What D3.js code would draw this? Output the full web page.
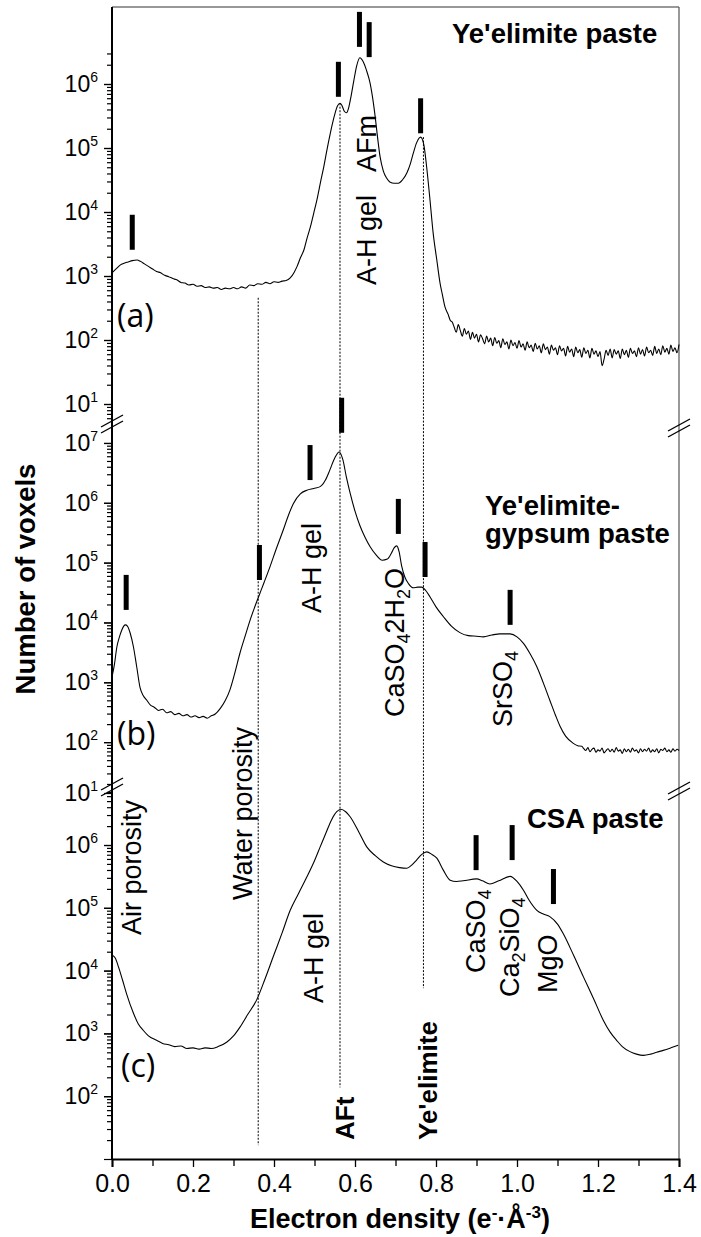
<!DOCTYPE html>
<html>
<head>
<meta charset="utf-8">
<script src="https://cdn.jsdelivr.net/npm/d3@7"></script>
<style>
  body { margin: 0; background: #fff; }
  text { font-family: "Liberation Sans", Arial, sans-serif; fill: #000; }
</style>
</head>
<body>
<svg id="chart" width="701" height="1237"></svg>
<script>
// Electron density (e-/A^3) and log10(number of voxels)

// (a) Ye'elimite paste
const xA = [0.000,0.010,0.020,0.030,0.040,0.050,0.062,0.070,0.080,0.090,0.100,0.110,0.120,0.130,0.140,0.150,0.160,0.170,0.180,0.190,
  0.200,0.210,0.220,0.230,0.240,0.250,0.260,0.270,0.280,0.290,0.300,0.310,0.320,0.330,0.340,0.350,0.360,0.370,0.380,0.390,
  0.400,0.410,0.420,0.430,0.440,0.450,0.457,0.465,0.474,0.482,0.490,0.498,0.506,0.515,0.523,0.531,0.539,0.545,0.551,0.557,
  0.563,0.568,0.574,0.579,0.584,0.590,0.597,0.604,0.612,0.620,0.628,0.637,0.645,0.650,0.656,0.662,0.670,0.678,0.686,0.697,
  0.707,0.717,0.728,0.737,0.744,0.752,0.762,0.770,0.777,0.785,0.793,0.802,0.810,0.816,0.822,0.830,0.835,
  0.840,0.845,0.850,0.855,0.860,0.865,0.870,0.875,0.880,0.885,0.890,0.895,
  0.900,0.905,0.910,0.915,0.920,0.925,0.930,0.935,0.940,0.945,0.950,0.955,0.960,0.965,0.970,0.975,0.980,0.985,0.990,0.995,
  1.000,1.005,1.010,1.015,1.020,1.025,1.030,1.035,1.040,1.045,1.050,1.055,1.060,1.065,1.070,1.075,1.080,1.085,1.090,1.095,
  1.100,1.105,1.110,1.115,1.120,1.125,1.130,1.135,1.140,1.145,1.150,1.155,1.160,1.165,1.170,1.175,1.180,1.185,1.190,1.195,
  1.200,1.205,1.210,1.215,1.220,1.225,1.230,1.235,1.240,1.245,1.250,1.255,1.260,1.265,1.270,1.275,1.280,1.285,1.290,1.295,
  1.300,1.305,1.310,1.315,1.320,1.325,1.330,1.335,1.340,1.345,1.350,1.355,1.360,1.365,1.370,1.375,1.380,1.385,1.390,1.395,1.400];
const logA = [3.05,3.11,3.17,3.20,3.22,3.24,3.25,3.23,3.19,3.15,3.11,3.07,3.05,3.01,2.99,2.96,2.94,2.90,2.89,2.86,
  2.87,2.84,2.85,2.82,2.83,2.81,2.82,2.79,2.81,2.80,2.82,2.80,2.83,2.81,2.86,2.85,2.88,2.87,2.90,2.88,
  2.91,2.90,2.92,2.93,2.97,3.06,3.15,3.28,3.41,3.60,3.77,3.98,4.19,4.47,4.71,4.98,5.23,5.40,5.55,5.66,
  5.70,5.66,5.57,5.55,5.62,5.80,6.05,6.28,6.41,6.35,6.22,6.02,5.72,5.48,5.15,4.86,4.64,4.53,4.47,4.45,
  4.45,4.50,4.61,4.76,4.92,5.08,5.17,5.05,4.70,4.20,3.67,3.25,2.89,2.70,2.52,2.40,2.31,
  2.28,2.20,2.12,2.24,2.15,2.06,2.18,2.09,2.14,2.01,2.12,2.03,
  2.09,1.97,2.08,2.02,1.94,2.06,1.97,2.03,1.91,2.04,1.95,1.99,1.88,2.02,1.93,1.97,1.86,2.00,1.91,1.96,
  1.87,1.99,1.89,1.94,1.84,1.97,1.88,1.92,1.82,1.95,1.86,1.91,1.80,1.94,1.85,1.89,1.78,1.92,1.84,1.88,
  1.77,1.91,1.83,1.87,1.75,1.90,1.81,1.86,1.74,1.89,1.80,1.85,1.73,1.88,1.79,1.84,1.72,1.87,1.78,1.83,
  1.74,1.82,1.60,1.70,1.84,1.76,1.86,1.72,1.85,1.78,1.83,1.71,1.86,1.77,1.84,1.73,1.87,1.79,1.83,1.74,
  1.88,1.78,1.85,1.75,1.89,1.80,1.84,1.76,1.90,1.79,1.86,1.77,1.91,1.81,1.87,1.78,1.92,1.82,1.88,1.80,1.93];

// (b) Ye'elimite-gypsum paste
const xB = [0.000,0.006,0.012,0.018,0.024,0.029,0.033,0.038,0.045,0.053,0.061,0.069,0.077,0.086,0.095,0.105,0.115,0.125,0.135,0.145,
  0.155,0.165,0.175,0.185,0.195,0.205,0.215,0.225,0.235,0.245,0.255,0.267,0.280,0.291,0.303,0.316,0.330,0.341,0.352,0.362,
  0.375,0.390,0.405,0.423,0.435,0.448,0.465,0.481,0.498,0.514,0.527,0.538,0.550,0.561,0.570,0.579,0.588,0.600,0.612,0.625,
  0.637,0.652,0.667,0.680,0.690,0.697,0.703,0.709,0.715,0.723,0.732,0.744,0.755,0.765,0.775,0.785,0.800,0.818,0.838,0.859,
  0.880,0.900,0.917,0.938,0.958,0.983,1.000,1.016,1.032,1.049,1.065,1.081,1.095,1.106,1.120,1.139,1.150,
  1.160,1.165,1.170,1.175,1.180,1.185,1.190,1.195,1.200,1.205,1.210,1.215,1.220,1.225,1.230,1.235,1.240,1.245,1.250,1.255,
  1.260,1.265,1.270,1.275,1.280,1.285,1.290,1.295,1.300,1.305,1.310,1.315,1.320,1.325,1.330,1.335,1.340,1.345,1.350,1.355,
  1.360,1.365,1.370,1.375,1.380,1.385,1.390,1.395,1.400];
const logB = [3.09,3.30,3.59,3.75,3.87,3.94,3.96,3.94,3.82,3.59,3.26,2.92,2.78,2.70,2.62,2.58,2.53,2.55,2.49,2.51,
  2.46,2.48,2.44,2.46,2.42,2.44,2.41,2.43,2.40,2.44,2.47,2.56,2.70,2.87,3.15,3.49,3.80,4.04,4.25,4.43,
  4.66,4.93,5.22,5.55,5.78,5.99,6.15,6.21,6.24,6.27,6.38,6.55,6.75,6.85,6.72,6.42,6.16,5.86,5.62,5.42,
  5.27,5.13,5.04,5.06,5.16,5.25,5.28,5.18,4.95,4.76,4.65,4.58,4.59,4.59,4.53,4.43,4.26,4.10,3.94,3.83,
  3.78,3.77,3.76,3.79,3.81,3.81,3.76,3.65,3.48,3.26,2.99,2.70,2.45,2.27,2.10,1.98,1.94,
  1.93,1.89,1.86,1.91,1.84,1.88,1.90,1.83,1.87,1.85,1.90,1.82,1.86,1.89,1.84,1.88,1.83,1.91,1.85,1.87,
  1.81,1.89,1.84,1.88,1.83,1.90,1.85,1.87,1.82,1.89,1.84,1.88,1.85,1.90,1.83,1.87,1.84,1.89,1.82,1.88,
  1.86,1.90,1.84,1.87,1.83,1.89,1.85,1.88,1.86];

// (c) CSA paste
const xC = [0.000,0.008,0.016,0.026,0.036,0.053,0.065,0.077,0.090,0.110,0.125,0.140,0.155,0.170,0.185,0.200,0.215,0.230,0.245,0.262,
  0.283,0.300,0.316,0.335,0.357,0.378,0.398,0.420,0.440,0.460,0.481,0.500,0.514,0.530,0.542,0.555,0.565,0.577,0.588,0.610,
  0.629,0.650,0.670,0.690,0.710,0.728,0.740,0.752,0.765,0.777,0.790,0.802,0.818,0.835,0.850,0.867,0.900,0.915,0.933,0.955,
  0.983,1.000,1.016,1.030,1.049,1.065,1.081,1.100,1.114,1.140,1.164,1.190,1.213,1.230,1.246,1.260,1.279,1.295,1.312,1.330,
  1.345,1.361,1.380,1.398];
const logC = [4.25,4.20,4.06,3.85,3.63,3.32,3.15,3.05,2.96,2.89,2.84,2.82,2.79,2.80,2.76,2.77,2.75,2.77,2.76,2.79,
  2.86,2.96,3.10,3.30,3.53,3.87,4.22,4.60,4.96,5.22,5.49,5.75,5.97,6.22,6.40,6.53,6.57,6.53,6.45,6.20,
  5.97,5.83,5.73,5.67,5.64,5.63,5.68,5.76,5.85,5.89,5.85,5.79,5.60,5.44,5.42,5.43,5.46,5.43,5.38,5.43,
  5.50,5.42,5.28,5.12,4.96,4.90,4.86,4.74,4.59,4.24,3.90,3.54,3.21,3.02,2.89,2.79,2.71,2.67,2.65,2.67,
  2.70,2.73,2.77,2.81];

// tick marks over the peaks (x, log10 count at the bottom of the mark)
const aMarkX = [0.05, 0.559, 0.611, 0.635, 0.762];
const aMarkLog = [3.41, 5.80, 6.58, 6.42, 5.23];
const bMarkX = [0.035, 0.364, 0.489, 0.567, 0.707, 0.773, 0.983];
const bMarkLog = [4.21, 4.71, 6.38, 7.17, 5.48, 4.76, 3.96];
const cMarkX = [0.899, 0.988, 1.09];
const cMarkLog = [5.60, 5.76, 5.06];

// dotted guides: x, top in panel (a), bottom in panel (c)
const guideX = [0.361, 0.563, 0.769];
const guideTopLog = [2.66, 5.70, 5.17];
const guideBottomLog = [1.22, 2.14, 3.72];

const xTicks = [0, 0.2, 0.4, 0.6, 0.8, 1.0, 1.2, 1.4];
const xMinorTicks = [0.1, 0.3, 0.5, 0.7, 0.9, 1.1, 1.3];

const svg = d3.select("#chart");
const x = d3.scaleLinear().domain([0, 1.4]).range([112, 679]);

const panels = [
  { xs: xA, logs: logA, dom: [0.75, 6.5], range: [420, 52], labelExp: [1, 2, 3, 4, 5, 6], markX: aMarkX, markLog: aMarkLog },
  { xs: xB, logs: logB, dom: [1.15, 7.25], range: [793, 428], labelExp: [1, 2, 3, 4, 5, 6, 7], markX: bMarkX, markLog: bMarkLog },
  { xs: xC, logs: logC, dom: [1, 6.876], range: [1159, 790], labelExp: [2, 3, 4, 5, 6], markX: cMarkX, markLog: cMarkLog },
];
panels.forEach(p => {
  p.y = d3.scaleLog().domain(p.dom.map(e => Math.pow(10, e))).range(p.range);
  p.yc = p.y.copy().clamp(true);
});

// frame
svg.append("line").attr("x1", 112).attr("x2", 679).attr("y1", 7).attr("y2", 7)
  .attr("stroke", "#333").attr("stroke-width", 1);
svg.append("line").attr("x1", 679).attr("x2", 679).attr("y1", 7).attr("y2", 1159)
  .attr("stroke", "#555").attr("stroke-width", 1.2);

// y axes
panels.forEach(p => {
  const minor = [];
  for (let e = Math.floor(p.dom[0]); e <= Math.floor(p.dom[1]); e++) {
    for (let k = 2; k <= 9; k++) {
      const v = k * Math.pow(10, e);
      if (Math.log10(v) >= p.dom[0] && Math.log10(v) <= p.dom[1]) minor.push(v);
    }
  }
  const major = [];
  for (let e = Math.ceil(p.dom[0]); e <= Math.floor(p.dom[1]); e++) major.push(Math.pow(10, e));
  p.labelExp.forEach(e => major.push(Math.pow(10, e)));

  const gMin = svg.append("g").attr("transform", "translate(112,0)")
    .call(d3.axisLeft(p.y).tickValues(minor).tickSize(5).tickFormat(""));
  const gMaj = svg.append("g").attr("transform", "translate(112,0)")
    .call(d3.axisLeft(p.yc).tickValues(major).tickSize(8).tickFormat(""));
  [gMin, gMaj].forEach(g => {
    g.select(".domain").remove();
    g.selectAll("line").attr("stroke", "#000").attr("stroke-width", 1.2);
  });

  const lab = svg.append("g");
  p.labelExp.forEach(e => {
    const t = lab.append("text")
      .attr("x", 98).attr("y", p.yc(Math.pow(10, e)) + 8)
      .attr("text-anchor", "end").style("font-size", "23px");
    t.append("tspan").text("10");
    t.append("tspan").attr("dy", -10).style("font-size", "14px").text(e);
  });
});

// left axis line and bottom axis
svg.append("line").attr("x1", 112).attr("x2", 112).attr("y1", 7).attr("y2", 1160)
  .attr("stroke", "#000").attr("stroke-width", 2);

const gx = svg.append("g").attr("transform", "translate(0,1159)")
  .call(d3.axisBottom(x).tickValues(xTicks).tickSize(8).tickPadding(7).tickFormat(d3.format(".1f")));
gx.select(".domain").attr("stroke-width", 2);
gx.selectAll("line").attr("stroke-width", 1.3);
gx.selectAll("text").style("font-size", "25px").style("font-family", "'Liberation Sans', Arial, sans-serif");
const gxm = svg.append("g").attr("transform", "translate(0,1159)")
  .call(d3.axisBottom(x).tickValues(xMinorTicks).tickSize(7).tickFormat(""));
gxm.select(".domain").remove();
gxm.selectAll("line").attr("stroke-width", 1.3);

// dotted guides
const yTop = panels[0].y, yBot = panels[2].y;
svg.append("g").selectAll("line").data(guideX).join("line")
  .attr("x1", d => x(d)).attr("x2", d => x(d))
  .attr("y1", (d, i) => yTop(Math.pow(10, guideTopLog[i])))
  .attr("y2", (d, i) => yBot(Math.pow(10, guideBottomLog[i])))
  .attr("stroke", "#000").attr("stroke-width", 1).attr("stroke-dasharray", "2,1.5");

// curves and peak marks
panels.forEach(p => {
  const pts = p.xs.map((v, i) => [v, Math.pow(10, p.logs[i])]);
  const line = d3.line().x(d => x(d[0])).y(d => p.y(d[1])).curve(d3.curveMonotoneX);
  svg.append("path").datum(pts).attr("d", line)
    .attr("fill", "none").attr("stroke", "#000").attr("stroke-width", 1.1);

  svg.append("g").selectAll("rect").data(p.markX).join("rect")
    .attr("x", d => x(d) - 2.5).attr("width", 5)
    .attr("y", (d, i) => p.y(Math.pow(10, p.markLog[i])) - 35).attr("height", 35)
    .attr("fill", "#000");
});

// axis break marks
const breaks = [[112, 424], [112, 787], [679, 428], [679, 791]];
breaks.forEach(([bx, by]) => {
  [-3, 3].forEach(o => {
    svg.append("line").attr("x1", bx - 11).attr("y1", by + o + 6).attr("x2", bx + 11).attr("y2", by + o - 6)
      .attr("stroke", "#000").attr("stroke-width", 1.4);
  });
});

// text helpers
function vlabel(bx, by, parts, size, weight) {
  const t = svg.append("text")
    .attr("transform", `translate(${bx},${by}) rotate(-90)`)
    .style("font-size", size + "px").style("font-weight", weight || "normal");
  let shift = 0;
  parts.forEach(([s, kind]) => {
    const want = kind === "sub" ? 6 : kind === "sup" ? -9 : 0;
    t.append("tspan").attr("dy", want - shift)
      .style("font-size", kind ? Math.round(size * 0.65) + "px" : null).text(s);
    shift = want;
  });
  return t;
}
function hlabel(tx, ty, parts, size, weight, family) {
  const t = svg.append("text").attr("x", tx).attr("y", ty)
    .style("font-size", size + "px").style("font-weight", weight || "normal");
  if (family) t.style("font-family", family);
  let shift = 0;
  parts.forEach(([s, kind]) => {
    const want = kind === "sub" ? 6 : kind === "sup" ? -10 : 0;
    t.append("tspan").attr("dy", want - shift)
      .style("font-size", kind ? Math.round(size * 0.62) + "px" : null).text(s);
    shift = want;
  });
  return t;
}

// panel titles
hlabel(452, 43, [["Ye'elimite paste"]], 27.5, "bold");
hlabel(485, 515, [["Ye'elimite-"]], 27.5, "bold");
hlabel(485, 543, [["gypsum paste"]], 27.5, "bold");
hlabel(527, 828, [["CSA paste"]], 27.5, "bold");

// panel letters
hlabel(117, 327, [["(a)"]], 32, "normal", "'Open Sans', sans-serif");
hlabel(117, 745, [["(b)"]], 32, "normal", "'Open Sans', sans-serif");
hlabel(121, 1077, [["(c)"]], 32, "normal", "'Open Sans', sans-serif");

// phase labels
vlabel(376, 285, [["A-H gel"]], 27);
vlabel(376, 172, [["AFm"]], 27);
vlabel(321, 613, [["A-H gel"]], 27);
vlabel(404, 717, [["CaSO"], ["4", "sub"], ["2H"], ["2", "sub"], ["O"]], 27);
vlabel(512, 727, [["SrSO"], ["4", "sub"]], 27);
vlabel(252, 900, [["Water porosity"]], 27);
vlabel(141, 935, [["Air porosity"]], 27);
vlabel(323, 1003, [["A-H gel"]], 27);
vlabel(485, 973, [["CaSO"], ["4", "sub"]], 27);
vlabel(519, 997, [["Ca"], ["2", "sub"], ["SiO"], ["4", "sub"]], 27);
vlabel(557, 993, [["MgO"]], 27);
vlabel(354, 1140, [["AFt"]], 26, "bold");
vlabel(437, 1140, [["Ye'elimite"]], 26, "bold");

// axis titles
vlabel(35, 579, [["Number of voxels"]], 27.5, "bold").attr("text-anchor", "middle");
hlabel(400, 1228, [["Electron density (e"], ["-", "sup"], ["\u00b7\u00c5"], ["-3", "sup"], [")"]], 27, "bold")
  .attr("text-anchor", "middle");
</script>
</body>
</html>
